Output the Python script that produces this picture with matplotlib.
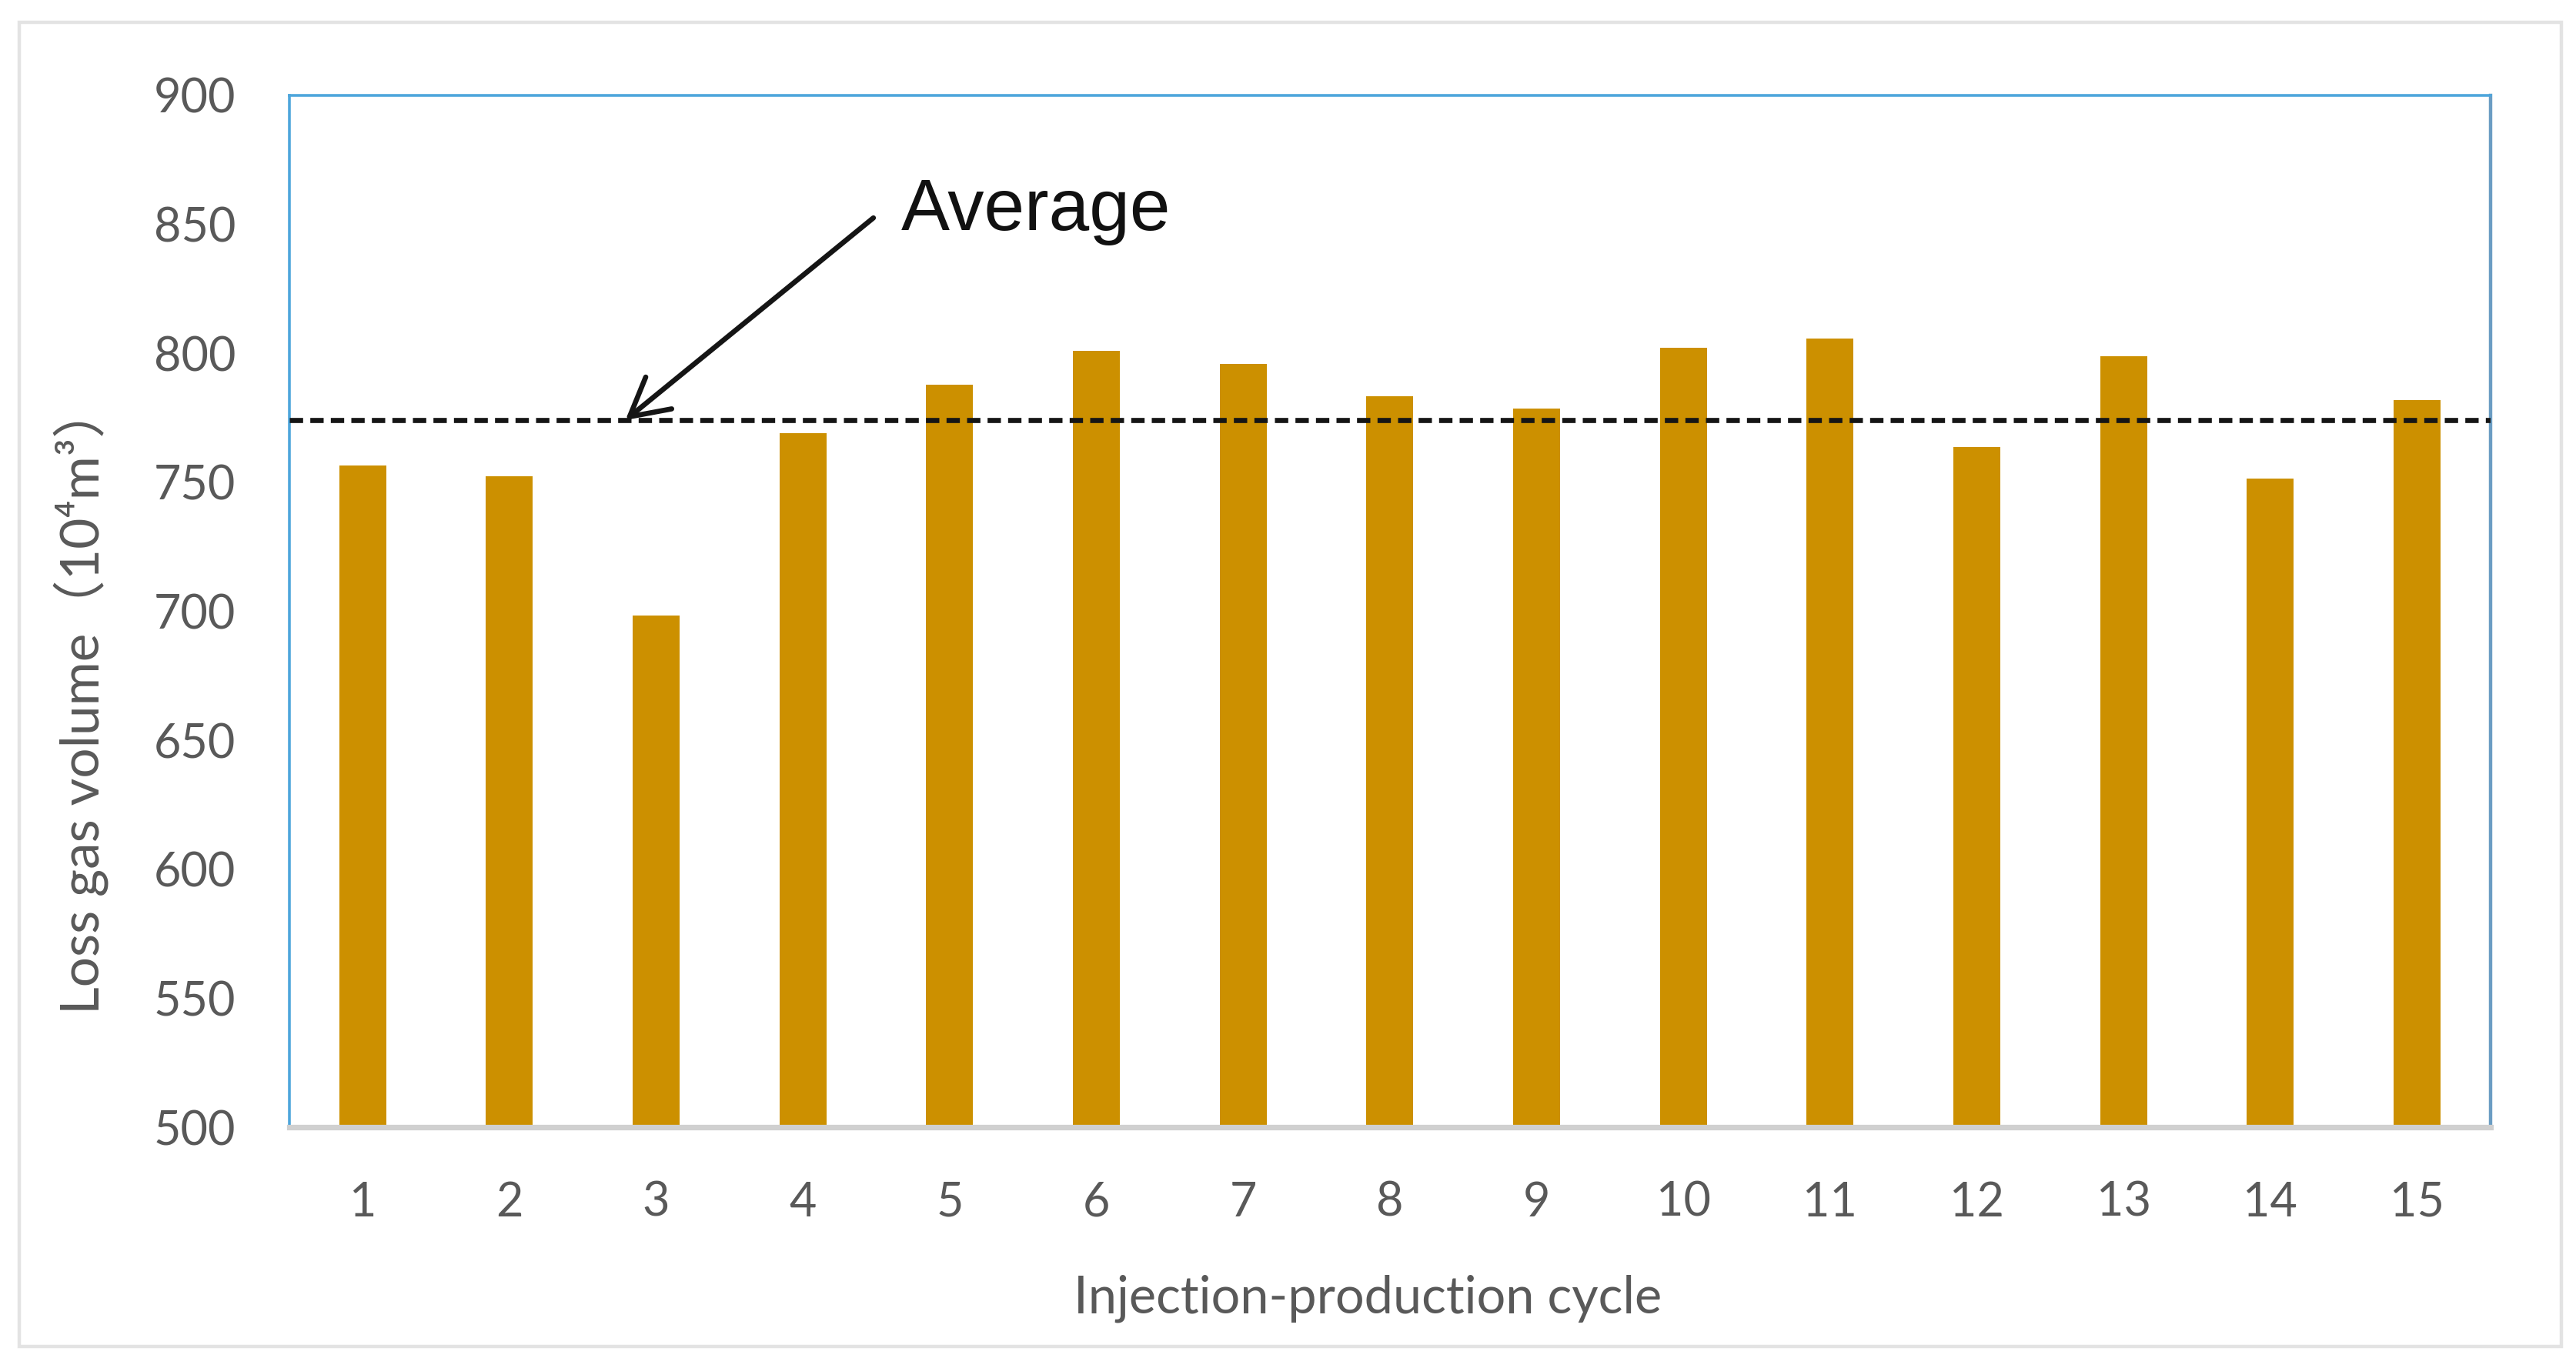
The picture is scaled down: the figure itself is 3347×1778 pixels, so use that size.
import matplotlib
matplotlib.use("Agg")
import matplotlib.pyplot as plt
import numpy as np
from matplotlib.patches import Rectangle

cycles = list(range(1, 16))
loss_gas = [756.5, 752.3, 698.4, 769.1, 787.8, 801.0, 795.8, 783.4,
            778.7, 802.3, 805.7, 763.7, 798.8, 751.3, 781.9]
average = 774.1
y_ticks = [500, 550, 600, 650, 700, 750, 800, 850, 900]

fonts = ['Lato', 'Noto Sans CJK SC', 'DejaVu Sans']
plt.rcParams['font.family'] = fonts

fig = plt.figure(figsize=(16.74, 8.89), dpi=200)
fig.patches.append(Rectangle((0.0075, 0.0157), 0.9865, 0.968, transform=fig.transFigure,
                             fill=False, edgecolor='#e3e3e3', linewidth=1.6))

ax = fig.add_axes([0.1123, 0.1760, 0.8542, 0.7543])
ax.bar(cycles, loss_gas, width=0.32, color='#cc9000', bottom=0, zorder=2)
ax.axhline(average, color='#151515', linewidth=2.4, linestyle=(0, (2.6, 1.4)), zorder=3)

ax.set_xlim(0.5, 15.5)
ax.set_ylim(500, 900)
ax.set_xticks(cycles)
ax.set_yticks(y_ticks)
ax.tick_params(length=0, labelsize=22, labelcolor='#595959')
ax.tick_params(axis='y', pad=25)
ax.tick_params(axis='x', pad=25)

for side in ['left', 'top']:
    ax.spines[side].set_color('#4ea6dc')
    ax.spines[side].set_linewidth(1.3)
ax.spines['right'].set_color('#6b9dc3')
ax.spines['right'].set_linewidth(1.6)
ax.spines['bottom'].set_color('#d0d0d0')
ax.spines['bottom'].set_linewidth(2.6)

ax.set_xlabel('Injection-production cycle', fontsize=24, color='#595959')
ax.set_ylabel('Loss gas volume（10⁴m³）', fontsize=25, color='#595959')
ax.xaxis.set_label_coords(0.49, -0.143)
ax.yaxis.set_label_coords(-0.082, 0.415)

ax.annotate('', xy=(2.79, average), xytext=(4.48, 852.5),
            arrowprops=dict(arrowstyle='->,head_width=0.3,head_length=0.55', color='#151515',
                            lw=2.4, mutation_scale=32, shrinkA=0, shrinkB=0), zorder=4)
ax.text(4.67, 855, 'Average', fontsize=34, color='#111111', va='center', ha='left',
        family=['Liberation Sans', 'DejaVu Sans'])

fig.savefig('out.png', dpi=200, facecolor='white')
